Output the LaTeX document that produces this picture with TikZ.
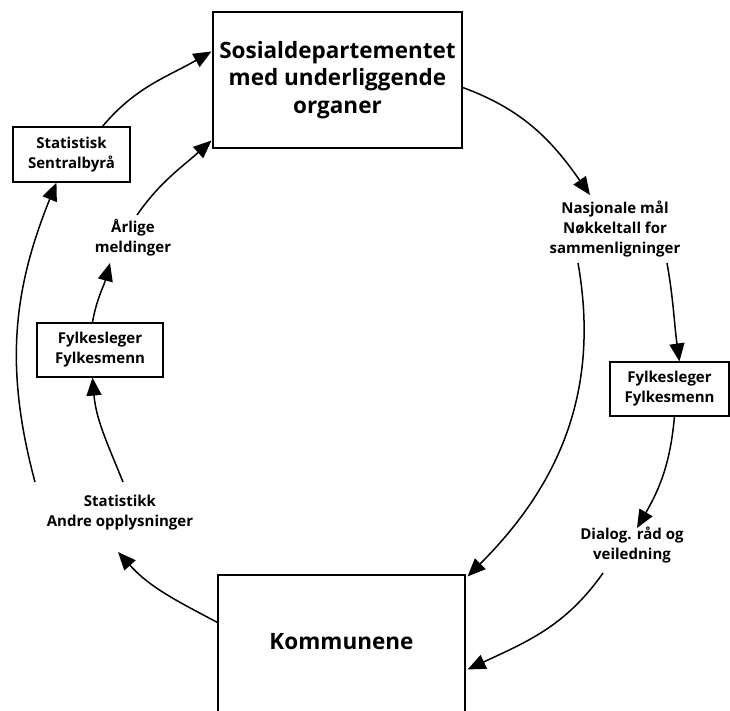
\documentclass[tikz,border=0pt]{standalone}
\usepackage{fontspec}
\setmainfont{Open Sans}
\usetikzlibrary{arrows.meta,calc}
\begin{document}
\begin{tikzpicture}[x=1pt,y=1pt,
  arr/.style={line width=1.5pt,-{Triangle[length=18pt,width=15pt]}},
  lbl/.style={font=\bfseries\fontsize{15}{20}\selectfont,align=center,inner sep=0pt},
  bigl/.style={font=\bfseries\fontsize{22.5}{27.5}\selectfont,align=center,inner sep=0pt},
  box/.style={draw,line width=1.1pt,inner sep=0pt}]
\useasboundingbox (0,0) rectangle (730,-710);
\clip (0,0) rectangle (730,-710);
% boxes
\node[box,minimum width=249pt,minimum height=136pt] (sos) at (337.5,-80) {};
\node[bigl] (sost) at (337.5,-80) {Sosialdepartementet\\med underliggende\\organer};
\node[box,lbl,minimum width=117pt,minimum height=55pt] (ssb) at (71.5,-154.5) {Statistisk\\Sentralbyrå};
\node[box,lbl,minimum width=126pt,minimum height=54pt] (fylL) at (100,-350) {Fylkesleger\\Fylkesmenn};
\node[box,lbl,minimum width=119pt,minimum height=54pt] (fylR) at (669.5,-389) {Fylkesleger\\Fylkesmenn};
\node[box,minimum width=247pt,minimum height=137pt] (kom) at (341.5,-643.5) {};
\node[bigl] (komt) at (341.5,-642) {Kommunene};
% labels
\node[lbl] (nasj) at (615,-229) {Nasjonale mål\\Nøkkeltall for\\sammenligninger};
\node[lbl] (dial) at (632,-545) {Dialog. råd og\\veiledning};
\node[lbl] (arl) at (133,-238) {Årlige\\meldinger};
\node[lbl] (stat) at (120,-513) {Statistikk\\Andre opplysninger};
% endpoints
\coordinate (a1s) at ($(sos.north east)+(0,-76)$);
\coordinate (a1e) at (590,-195);
\coordinate (a2s) at (578,-263);
\coordinate (a2e) at ($(kom.north east)+(2,-2)$);
\coordinate (a3s) at (667,-263);
\coordinate (a3e) at ($(fylR.north west)+(70,0)$);
\coordinate (a4s) at ($(fylR.south west)+(65,0)$);
\coordinate (a4e) at (637,-528);
\coordinate (a5s) at (603,-573);
\coordinate (a5e) at ($(kom.north east)+(2,-95)$);
\coordinate (a6s) at ($(kom.north west)+(0,-48)$);
\coordinate (a6e) at (118,-552);
\coordinate (a7s) at (123,-482);
\coordinate (a7e) at ($(fylL.south west)+(56,0)$);
\coordinate (a8s) at ($(fylL.north west)+(56,0)$);
\coordinate (a8e) at (110,-263);
\coordinate (a9s) at (137,-215);
\coordinate (a9e) at ($(sos.south west)+(-1,8)$);
\coordinate (a10s) at (35,-482);
\coordinate (a10e) at ($(ssb.south west)+(44,0)$);
\coordinate (a11s) at ($(ssb.north west)+(90,0)$);
\coordinate (a11e) at ($(sos.north west)+(-1,-40)$);
% connectors
\draw[arr] (a1s) to[out=-20,in=125] (a1e);
\draw[arr] (a2s) to[out=-80,in=45] (a2e);
\draw[arr] (a3s) to[out=-80,in=98] (a3e);
\draw[arr] (a4s) to[out=-95,in=60] (a4e);
\draw[arr] (a5s) to[out=-125,in=25] (a5e);
\draw[arr] (a6s) to[out=152,in=-48] (a6e);
\draw[arr] (a7s) to[out=112,in=-85] (a7e);
\draw[arr] (a8s) to[out=80,in=-105] (a8e);
\draw[arr] (a9s) to[out=55,in=-138] (a9e);
\draw[arr] (a10s) to[out=105,in=-112] (a10e);
\draw[arr] (a11s) to[out=50,in=-150] (a11e);
\end{tikzpicture}
\end{document}
